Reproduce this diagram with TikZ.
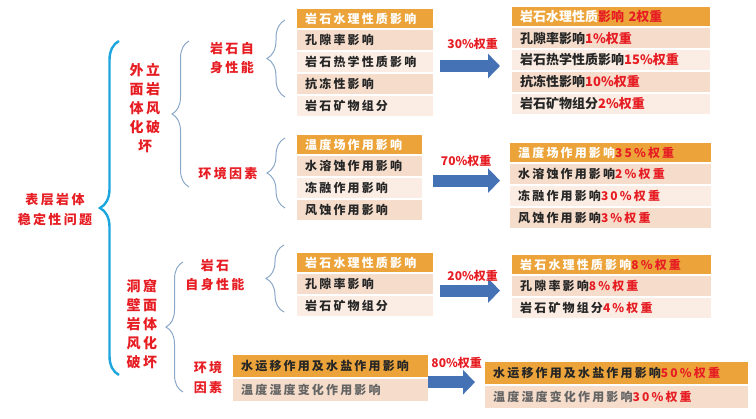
\documentclass[tikz,border=0pt]{standalone}
\usepackage{fontspec}
\newfontfamily\cjk{Noto Sans CJK SC}
\newfontfamily\cjkwide{Noto Sans CJK SC}[LetterSpace=18]
\usetikzlibrary{
    positioning,
    arrows.meta,
    decorations.pathreplacing
}
\definecolor{hdrorange}{RGB}{236,164,58}
\definecolor{rowpeach}{RGB}{246,221,203}
\definecolor{rowpale}{RGB}{251,237,227}
\definecolor{numred}{RGB}{230,30,36}
\definecolor{bracecyan}{RGB}{28,165,222}
\definecolor{bracegray}{RGB}{140,168,200}
\definecolor{arrowblue}{RGB}{68,114,180}
\definecolor{txtdark}{RGB}{38,38,38}
\definecolor{txtgray}{RGB}{100,100,100}

\begin{document}
\begin{tikzpicture}[
      x=1pt, y=-1pt,
      % Set distance between the stacked rows
      node distance=1.5pt,
      % Define styles for the elements
      cell/.style={
          anchor=north west,
          inner xsep=8pt,
          inner ysep=0pt,
          text width=#1,
          minimum height=20pt,
          align=left,
          text=txtdark,
          font=\cjkwide\bfseries\fontsize{12}{14}\selectfont
        },
      hdr/.style={
          cell=#1,
          fill=hdrorange,
          text=white,
          minimum height=19pt
        },
      dark/.style={
          cell=#1,
          fill=rowpeach
        },
      pale/.style={
          cell=#1,
          fill=rowpale
        },
      song/.style={
          font=\cjk\bfseries\fontsize{13}{14}\selectfont
        },
      grp/.style={
          align=center,
          text=numred,
          inner sep=0pt,
          font=\cjkwide\bfseries\fontsize{14}{19}\selectfont
        },
      weight/.style={
          text=numred,
          inner sep=0pt,
          font=\cjk\bfseries\fontsize{12}{14}\selectfont
        },
      curly/.style={
          decorate,
          decoration={brace, amplitude=#1}
        },
      bigarrow/.style={
          -{Triangle[length=12pt, width=24pt]}, % Arrow tip style
          line width=12pt,
          draw=arrowblue
        }
    ]
    \useasboundingbox (0,0) rectangle (756,419);

    % Labels of the tree
    \node[grp, font=\cjkwide\bfseries\fontsize{13}{20}\selectfont] (root) at (55,210) {表层岩体\\稳定性问题};
    \node[grp] (facade) at (145,108) {外立\\面岩\\体风\\化破\\坏};
    \node[grp] (cave) at (142,324) {洞窟\\壁面\\岩体\\风化\\破坏};
    \node[grp, font=\cjkwide\bfseries\fontsize{13}{19}\selectfont] (rock1) at (232,58.5) {岩石自\\身性能};
    \node[grp, font=\cjkwide\bfseries\fontsize{13}{19}\selectfont] (env1) at (228,174) {环境因素};
    \node[grp, font=\cjkwide\bfseries\fontsize{13}{19}\selectfont] (rock2) at (215,275.5) {岩石\\自身性能};
    \node[grp, font=\cjkwide\bfseries\fontsize{13}{20}\selectfont] (env2) at (208,378) {环境\\因素};

    % Brace end points
    \coordinate (rootTop) at (119,41);
    \coordinate (rootBot) at (119,375);
    \coordinate (facadeTop) at (189,41);
    \coordinate (facadeBot) at (189,187);
    \coordinate (caveTop) at (183,262);
    \coordinate (caveBot) at (183,392);
    \coordinate (rock1Top) at (285,20);
    \coordinate (rock1Bot) at (285,97);
    \coordinate (env1Top) at (285,138);
    \coordinate (env1Bot) at (285,208);
    \coordinate (rock2Top) at (284,245);
    \coordinate (rock2Bot) at (284,312);

    % Draw the braces
    \draw[curly=19pt, bracecyan, line width=2.4pt] (rootBot) -- (rootTop);
    \draw[curly=17pt, bracegray, line width=1pt] (facadeBot) -- (facadeTop);
    \draw[curly=17pt, bracegray, line width=1pt] (caveBot) -- (caveTop);
    \draw[curly=18pt, bracegray, line width=1pt] (rock1Bot) -- (rock1Top);
    \draw[curly=18pt, bracegray, line width=1pt] (env1Bot) -- (env1Top);
    \draw[curly=18pt, bracegray, line width=1pt] (rock2Bot) -- (rock2Top);

    % Facade: rock properties
    \node[hdr=120pt] (a1h) at (297,9) {岩石水理性质影响};
    \node[dark=120pt, below=of a1h] (a1r1) {孔隙率影响};
    \node[pale=120pt, below=of a1r1] (a1r2) {岩石热学性质影响};
    \node[dark=120pt, below=of a1r2] (a1r3) {抗冻性影响};
    \node[pale=120pt, below=of a1r3] (a1r4) {岩石矿物组分};

    \node[hdr=182pt, song] (b1h) at (512,7) {岩石水理性质\textcolor{numred}{影响 2权重}};
    \node[dark=182pt, song, below=of b1h] (b1r1) {孔隙率影响\textcolor{numred}{1\%权重}};
    \node[pale=182pt, song, below=of b1r1] (b1r2) {岩石热学性质影响\textcolor{numred}{15\%权重}};
    \node[dark=182pt, song, below=of b1r2] (b1r3) {抗冻性影响\textcolor{numred}{10\%权重}};
    \node[pale=182pt, song, below=of b1r3] (b1r4) {岩石矿物组分\textcolor{numred}{2\%权重}};

    % Facade: environment
    \node[hdr=109pt] (a2h) at (297,135) {温度场作用影响};
    \node[dark=109pt, below=of a2h] (a2r1) {水溶蚀作用影响};
    \node[pale=109pt, below=of a2r1] (a2r2) {冻融作用影响};
    \node[dark=109pt, below=of a2r2] (a2r3) {风蚀作用影响};

    \node[hdr=185pt] (b2h) at (510,143) {温度场作用影响\textcolor{numred}{35\%权重}};
    \node[dark=185pt, below=of b2h] (b2r1) {水溶蚀作用影响\textcolor{numred}{2\%权重}};
    \node[pale=185pt, below=of b2r1] (b2r2) {冻融作用影响\textcolor{numred}{30\%权重}};
    \node[dark=185pt, below=of b2r2] (b2r3) {风蚀作用影响\textcolor{numred}{3\%权重}};

    % Cave wall: rock properties
    \node[hdr=120pt] (a3h) at (297,253) {岩石水理性质影响};
    \node[dark=120pt, below=of a3h] (a3r1) {孔隙率影响};
    \node[pale=120pt, below=of a3r1] (a3r2) {岩石矿物组分};

    \node[hdr=183pt] (b3h) at (512,255) {岩石水理性质影响\textcolor{numred}{8\%权重}};
    \node[dark=183pt, below=of b3h] (b3r1) {孔隙率影响\textcolor{numred}{8\%权重}};
    \node[pale=183pt, below=of b3r1] (b3r2) {岩石矿物组分\textcolor{numred}{4\%权重}};

    % Cave wall: environment
    \node[hdr=179pt, text=txtdark, minimum height=22pt] (a4h) at (233,355) {水运移作用及水盐作用影响};
    \node[dark=179pt, text=txtgray, minimum height=22pt, below=of a4h] (a4r1) {温度湿度变化作用影响};

    \node[hdr=247pt, text=txtdark, minimum height=22pt] (b4h) at (485,362) {水运移作用及水盐作用影响\textcolor{numred}{50\%权重}};
    \node[dark=247pt, text=txtgray, minimum height=22pt, below=of b4h] (b4r1) {温度湿度变化作用影响\textcolor{numred}{30\%权重}};

    % Draw the weight arrows
    \draw[bigarrow, shorten <=7pt, shorten >=12pt] ([yshift=-4pt]a1r2.east) -- ([yshift=-6pt]b1r2.west)
      node[weight, midway, yshift=22pt] {30\%权重};
    \draw[bigarrow, shorten <=11pt, shorten >=10pt] ([yshift=-14.5pt]a2r1.east) -- ([yshift=-6.5pt]b2r1.west)
      node[weight, midway, yshift=20pt] {70\%权重};
    \draw[bigarrow, shorten <=7pt, shorten >=12pt] ([yshift=-6.5pt]a3r1.east) -- ([yshift=-4.5pt]b3r1.west)
      node[weight, midway, yshift=15pt] {20\%权重};
    \draw[bigarrow, shorten >=10pt] ([yshift=-16pt]a4h.east) -- ([yshift=-9pt]b4h.west)
      node[weight, midway, yshift=19pt] {80\%权重};

  \end{tikzpicture}
\end{document}
